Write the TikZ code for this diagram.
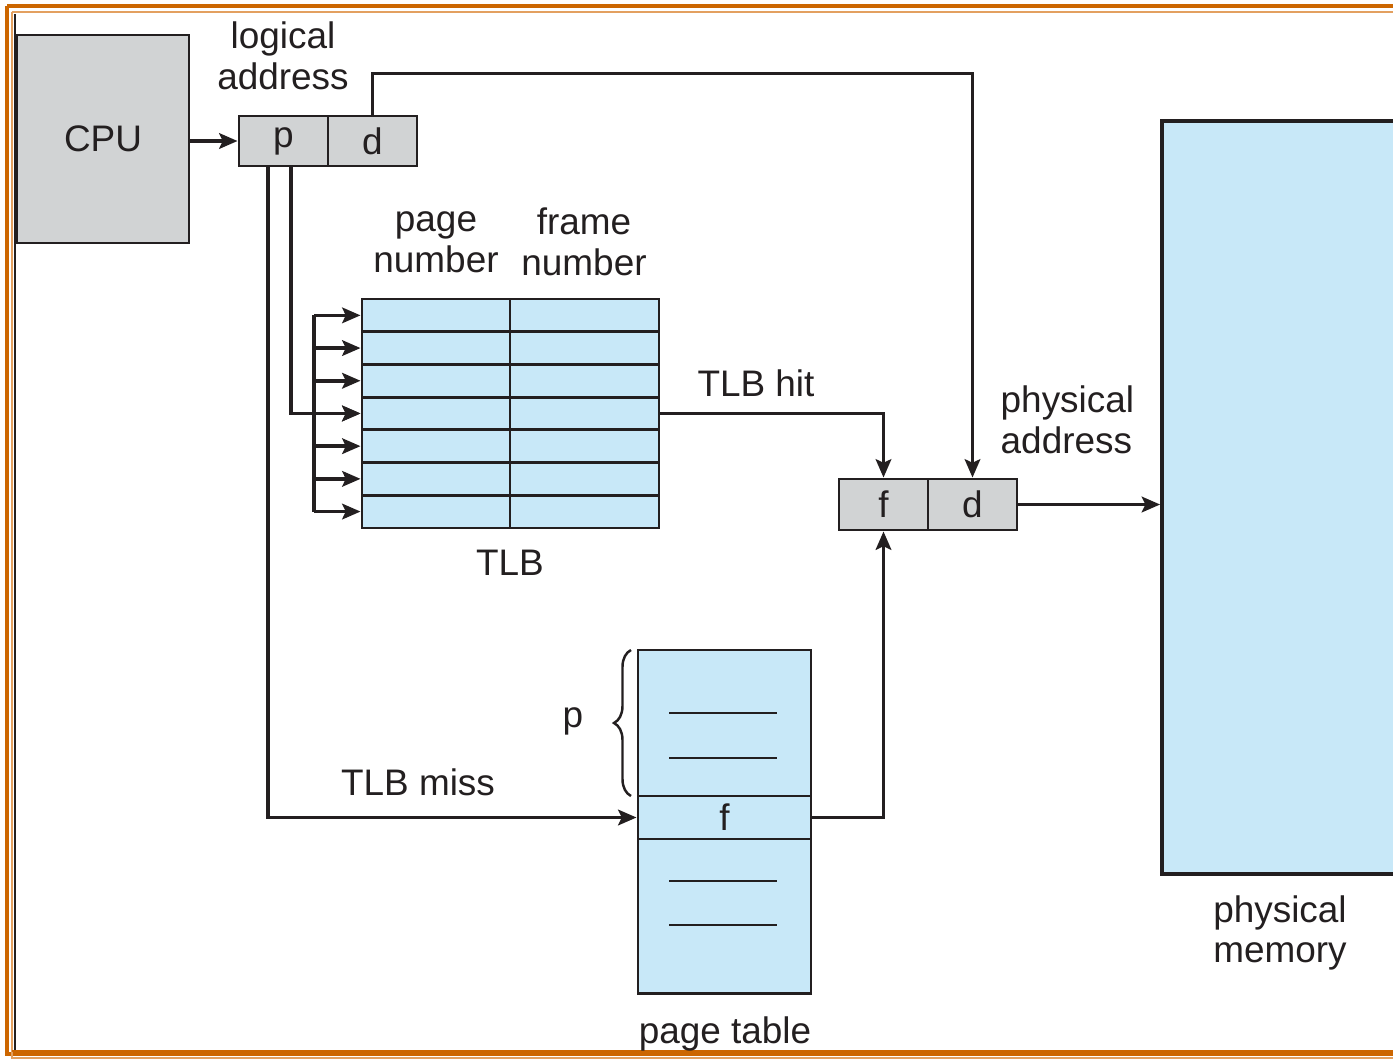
\documentclass[tikz,border=0pt]{standalone}
\usepackage{fontspec}
\setmainfont{Liberation Sans}
\usepackage{xcolor}
\usepackage{tikz}
\usetikzlibrary{arrows.meta,decorations.pathreplacing}

\definecolor{ink}{HTML}{231F20}
\definecolor{regfill}{HTML}{D1D3D4}
\definecolor{memfill}{HTML}{C8E8F8}
\definecolor{frameorange}{HTML}{CC6600}
\definecolor{framelight}{HTML}{E3A060}

\tikzset{
  reg/.style={draw=ink, fill=regfill, line width=0.8pt, inner sep=0pt, text=ink},
  tlbcell/.style={draw=ink, fill=memfill, line width=0.8pt, inner sep=0pt, minimum height=0.327cm},
  arr/.style={draw=ink, line width=1.05pt, -{Stealth[length=5.2pt,width=4.4pt,inset=1pt]}},
  lbl/.style={text=ink, align=center, inner sep=0pt}
}

\begin{document}
\begin{tikzpicture}[x=0.01cm, y=-0.01cm, font=\fontsize{10.5}{11.6}\selectfont]
		\useasboundingbox (0,0) rectangle (1393,1060);
		% frame
		\draw[frameorange, line width=0.9pt] (7,6) -- (1400,6) (7,6) -- (7,1054) -- (1400,1054);
		\draw[framelight, line width=0.6pt] (12,12) -- (1400,12) (12,12) -- (12,1058) -- (1400,1058);
		\draw[ink, line width=0.7pt] (15,14) -- (15,1051);
		\draw[frameorange, line width=0.6pt] (12,1051) -- (1400,1051);

		% CPU and logical address
		\node[reg, minimum width=1.72cm, minimum height=2.08cm] (cpu) at (103,139) {CPU};
		\node[reg, minimum width=0.89cm, minimum height=0.50cm] (lp) at (283.5,141) {p};
		\node[reg, minimum width=0.89cm, minimum height=0.50cm] (ld) at (372.5,141) {d};
		\node[lbl] (logaddr) at (283,56) {logical\\address};
		\draw[arr] (cpu.east |- lp.west) -- (lp.west);

		% TLB
		\foreach \i in {0,...,6}{
			\node[tlbcell, minimum width=1.48cm] (pn\i) at (436,315.35+32.7*\i) {};
			\node[tlbcell, minimum width=1.49cm] (fn\i) at (584.5,315.35+32.7*\i) {};
		}
		\node[lbl] (pnhead) at (436,242) {page\\number};
		\node[lbl] (fnhead) at (584,242) {frame\\number};
		\node[lbl] (tlb) at (510,563) {TLB};
		\coordinate (bus) at (314,0);
		\foreach \i in {0,...,6}
			\draw[arr] (pn\i.west -| bus) -- (pn\i.west);
		\draw[ink, line width=1.05pt] (pn0.west -| bus) -- (pn6.west -| bus);
		\draw[arr] ([xshift=0.075cm]lp.south) |- (pn3.west);

		% physical address
		\node[reg, minimum width=0.89cm, minimum height=0.51cm] (pf) at (883.5,504.5) {f};
		\node[reg, minimum width=0.89cm, minimum height=0.51cm] (pd) at (972.5,504.5) {d};
		\node[lbl, align=left, anchor=west] (physaddr) at (1000,420) {physical\\address};
		\draw[arr] (ld.north) -- ++(0,-41) -| (pd.north);
		\draw[arr] (fn3.east) -| (pf.north);
		\node[lbl] (hit) at (756,383) {TLB hit};

		% physical memory
		\node[draw=ink, fill=memfill, line width=1pt, minimum width=2.6cm, minimum height=7.53cm, inner sep=0pt] (mem) at (1292,497.5) {};
		\node[lbl] (memlbl) at (1280,933) {physical\\memory};
		\draw[arr] (pd.east) -- (pd.east -| mem.west);

		% page table
		\node[draw=ink, fill=memfill, line width=0.8pt, minimum width=1.73cm, minimum height=3.43cm, inner sep=0pt] (pt) at (724.5,821.5) {};
		\node[draw=ink, fill=memfill, line width=0.8pt, minimum width=1.73cm, minimum height=0.43cm, inner sep=0pt, text=ink] (ptf) at (724.5,817.5) {f};
		\foreach \y in {713,758,881,925}
			\draw[ink, line width=0.8pt] (669,\y) -- (777,\y);
		\draw[ink, line width=0.7pt, decorate, decoration={brace, amplitude=0.17cm}] (631,796) -- (631,650);
		\node[lbl] (plbl) at (573,721) {p};
		\node[lbl] (ptlbl) at (725,1034) {page table};
		\draw[arr] ([xshift=-0.155cm]lp.south) |- (ptf.west);
		\node[lbl] (miss) at (418,782) {TLB miss};
		\draw[arr] (ptf.east) -| (pf.south);
	\end{tikzpicture}
\end{document}
